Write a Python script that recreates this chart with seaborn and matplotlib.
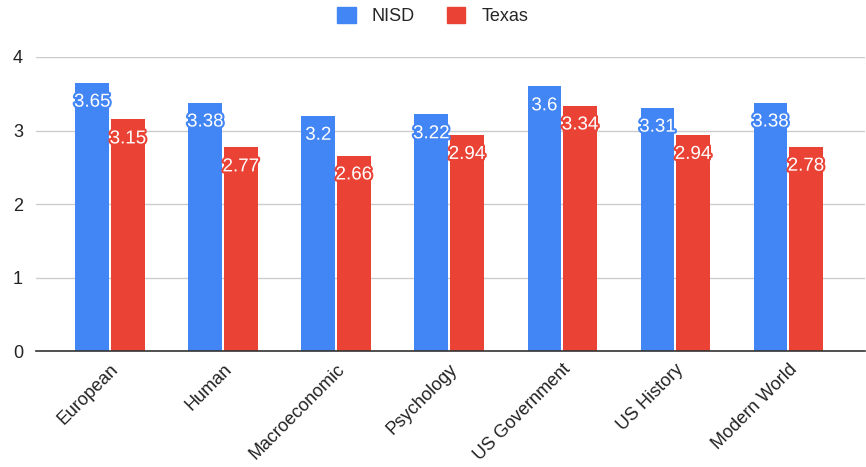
import numpy as np
import pandas as pd
import matplotlib
matplotlib.use('Agg')
import matplotlib.pyplot as plt
import matplotlib.patheffects as pe
import seaborn as sns

# Chart data
courses = ['European', 'Human', 'Macroeconomic', 'Psychology',
           'US Government', 'US History', 'Modern World']
nisd = [3.65, 3.38, 3.2, 3.22, 3.6, 3.31, 3.38]
texas = [3.15, 2.77, 2.66, 2.94, 3.34, 2.94, 2.78]
series = ['NISD', 'Texas']
colors = ['#4285F4', '#EA4335']
y_ticks = [0, 1, 2, 3, 4]

df = pd.DataFrame({
    'course': courses * 2,
    'score': nisd + texas,
    'group': ['NISD'] * len(courses) + ['Texas'] * len(courses),
})

sns.set_theme(style='white')
plt.rcParams['font.family'] = ['Liberation Sans', 'DejaVu Sans']

fig = plt.figure(figsize=(8.66, 4.67), dpi=100)
ax = fig.add_axes([0.041, 0.248, 0.958, 0.630])

sns.barplot(data=df, x='course', y='score', hue='group', hue_order=series,
            palette=colors, width=0.63, gap=0.05, saturation=1,
            edgecolor='none', ax=ax, legend=False, zorder=3)

# value labels: white text with halo in bar colour
for container, col in zip(ax.containers, colors):
    for bar in container:
        h = bar.get_height()
        ax.annotate(f'{h:g}', (bar.get_x() + bar.get_width() / 2, h),
                    xytext=(0, -14), textcoords='offset points',
                    ha='center', va='center', color='white', fontsize=13.5,
                    zorder=5,
                    path_effects=[pe.withStroke(linewidth=3, foreground=col)])

ax.set_ylim(0, 4)
ax.set_xlim(-0.66, 6.68)
ax.set_yticks(y_ticks)
ax.set_yticklabels([str(t) for t in y_ticks], fontsize=13, color='#222222')
ax.yaxis.grid(True, color='#cccccc', linewidth=1, zorder=0)
ax.tick_params(axis='y', length=0, pad=9)
ax.tick_params(axis='x', length=0, pad=7)
plt.setp(ax.get_xticklabels(), rotation=45, ha='right', rotation_mode='anchor',
         fontsize=13, color='#222222')
ax.set_xlabel('')
ax.set_ylabel('')
for s in ['top', 'right', 'left']:
    ax.spines[s].set_visible(False)
ax.spines['bottom'].set_color('#333333')
ax.spines['bottom'].set_linewidth(1.2)
ax.spines['bottom'].set_zorder(6)

handles = [plt.Rectangle((0, 0), 1, 1, color=c) for c in colors]
fig.legend(handles, series, loc='upper center', bbox_to_anchor=(0.5, 1.02),
           ncol=2, frameon=False, fontsize=13, handlelength=1.0,
           handleheight=1.0, columnspacing=1.8, handletextpad=0.9)

fig.savefig('out.png', dpi=100)
